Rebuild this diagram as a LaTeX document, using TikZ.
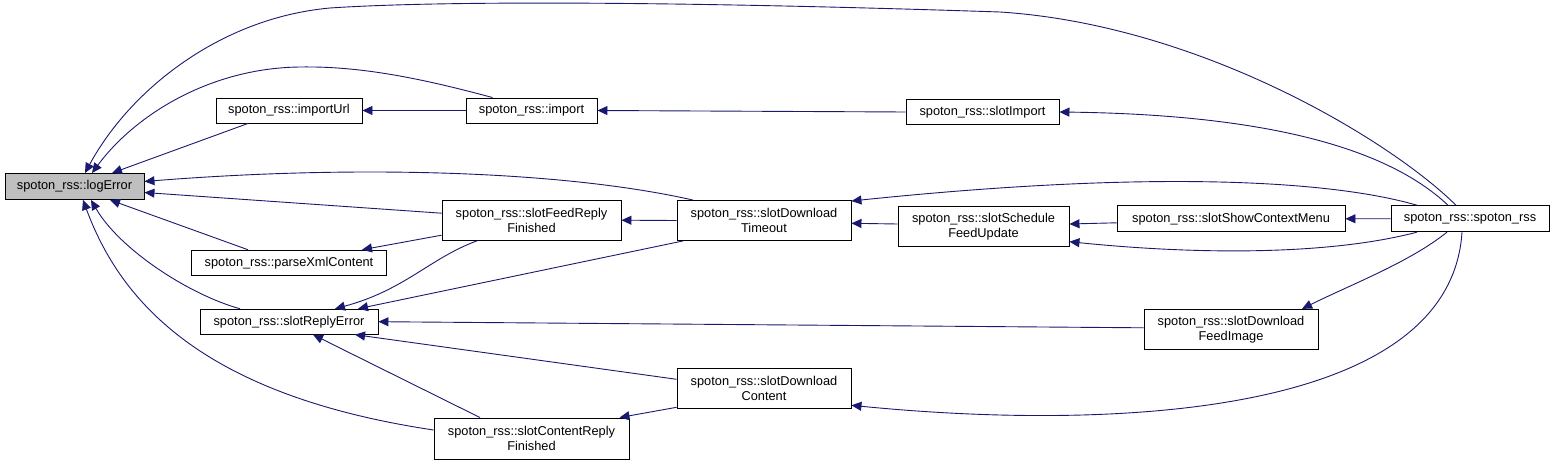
\documentclass[tikz,border=0pt]{standalone}
\usepackage{fontspec}
\setsansfont{Liberation Sans}
\usetikzlibrary{arrows.meta}
\definecolor{callblue}{HTML}{191970}

\begin{document}
\begin{tikzpicture}[x=1pt,y=-1pt,>={Triangle[length=10pt,width=9pt]},font=\sffamily\fontsize{12.8}{15}\selectfont,
  fn/.style={draw,line width=0.9pt,inner sep=0pt,align=center},
  call/.style={->,color=callblue,line width=0.9pt}]
\useasboundingbox (0,0) rectangle (1555,465);
\foreach \n/\x/\y/\w/\h/\f/\t in {
  logerror/74.5/186.5/139/26/black!25/spoton\_rss::logError,
  importurl/289/110.5/146/25/white/spoton\_rss::importUrl,
  import/531.5/110.5/131/25/white/spoton\_rss::import,
  slotimport/982.5/112/153/25/white/spoton\_rss::slotImport,
  feedreply/531.5/220.2/179/40/white/spoton\_rss::slotFeedReply\\Finished,
  dltimeout/764/220.5/174/40/white/spoton\_rss::slotDownload\\Timeout,
  schedule/983.5/226.7/171/40/white/spoton\_rss::slotSchedule\\FeedUpdate,
  showmenu/1231/218.8/228/26/white/spoton\_rss::slotShowContextMenu,
  spoton/1470/218.7/158/26/white/spoton\_rss::spoton\_rss,
  parsexml/289/262.7/195/25/white/spoton\_rss::parseXmlContent,
  replyerror/289/321.7/178/25/white/spoton\_rss::slotReplyError,
  feedimage/1231/329.3/174/40/white/spoton\_rss::slotDownload\\FeedImage,
  dlcontent/764/388.3/174/40/white/spoton\_rss::slotDownload\\Content,
  contentreply/531.5/438.5/195/41/white/spoton\_rss::slotContentReply\\Finished}
  {\node[fn,fill=\f,minimum width=\w pt,minimum height=\h pt] (\n) at (\x,\y) {\t};}
\foreach \a/\b in {import/importurl,slotimport/import,dltimeout/feedreply,spoton/showmenu}{\draw[call] (\a.west) -- (\b.east);}
\draw[call] ([xshift=-41pt]importurl.south) -- ([xshift=37.5pt]logerror.north);
\draw[call] ([xshift=-39pt]import.north) .. controls (420,78) and (360,66) .. (300,67) .. controls (210,68) and (135,115) .. ([xshift=17.5pt]logerror.north);
\draw[call] ([xshift=-14pt]spoton.north) .. controls (1390,140) and (1200,25) .. (1000,12) .. controls (700,2) and (450,0) .. (330,8) .. controls (220,18) and (130,90) .. ([xshift=10.5pt]logerror.north);
\draw[call] ([xshift=-71pt]dltimeout.north) .. controls (560,170) and (350,165) .. ([yshift=5pt]logerror.east);
\draw[call] ([yshift=7pt]feedreply.west) -- ([yshift=-6pt]logerror.east);
\draw[call] ([xshift=-41pt]parsexml.north) -- ([xshift=35.5pt]logerror.south);
\draw[call] ([xshift=-49pt]replyerror.north) .. controls (190,295) and (120,250) .. ([xshift=16.5pt]logerror.south);
\draw[call] ([yshift=8.5pt]contentreply.west) .. controls (200,395) and (120,300) .. ([xshift=8.5pt]logerror.south);
\draw[call] ([xshift=-22pt]spoton.north) .. controls (1400,160) and (1300,115) .. (slotimport.east);
\draw[call] ([yshift=-15pt]feedreply.west) -- ([xshift=73pt]parsexml.north);
\draw[call] ([xshift=-54pt]feedreply.south) .. controls (430,258) and (405,290) .. ([xshift=46pt]replyerror.north);
\draw[call] ([xshift=-81pt]dltimeout.south) -- ([xshift=69pt]replyerror.north);
\draw[call] ([yshift=1.5pt]feedimage.west) -- (replyerror.east);
\draw[call] ([yshift=9pt]dlcontent.west) -- ([xshift=66pt]replyerror.south);
\draw[call] ([xshift=-51.5pt]contentreply.north) -- ([xshift=24pt]replyerror.south);
\draw[call] ([yshift=-19pt]dlcontent.west) -- ([xshift=88pt]contentreply.north);
\draw[call] ([yshift=2.7pt]schedule.west) -- ([yshift=-2.8pt]dltimeout.east);
\draw[call] ([xshift=-53pt]spoton.north) .. controls (1330,180) and (1150,170) .. ([yshift=19.5pt]dltimeout.east);
\draw[call] ([yshift=-4pt]showmenu.west) -- ([yshift=2.7pt]schedule.east);
\draw[call] ([xshift=-53pt]spoton.south) .. controls (1330,255) and (1200,255) .. ([yshift=-15pt]schedule.east);
\draw[call] ([xshift=-23pt]spoton.south) .. controls (1410,262) and (1350,285) .. ([xshift=71pt]feedimage.north);
\draw[call] ([xshift=-8pt]spoton.south) .. controls (1450,420) and (1100,430) .. ([yshift=-17pt]dlcontent.east);
\end{tikzpicture}
\end{document}
